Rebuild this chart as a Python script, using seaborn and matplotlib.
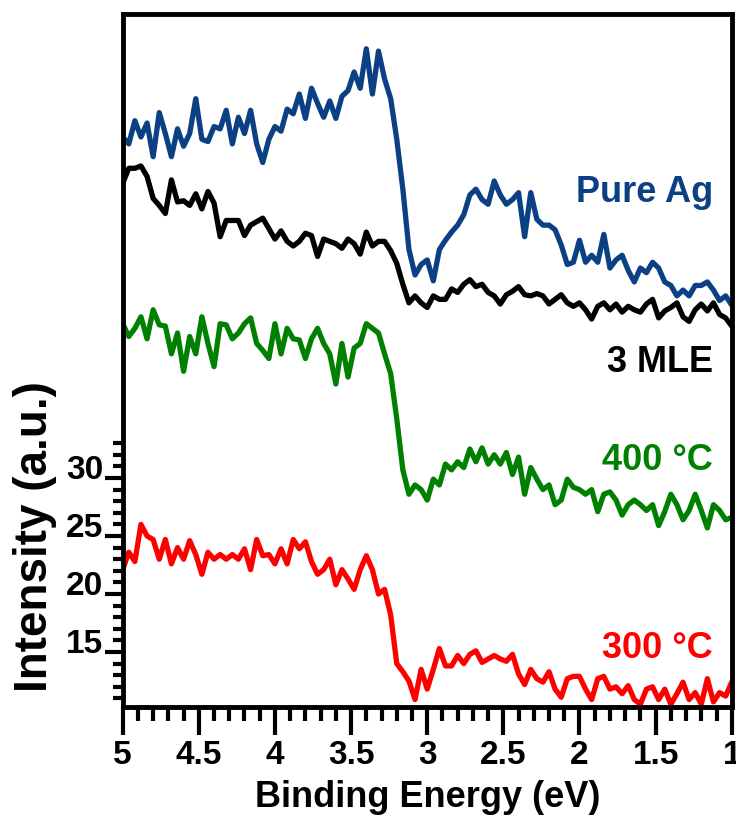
import numpy as np
import pandas as pd
import matplotlib
matplotlib.use('Agg')
import matplotlib.pyplot as plt
import matplotlib.transforms as mtransforms
from matplotlib.ticker import FixedLocator, MultipleLocator
import seaborn as sns

# energia de ligacao (eV), de 5 ate 1 com passo de 0.04
energy = np.linspace(5, 1, 101)

# espectros (unidades do eixo, ja com o deslocamento vertical)
pure_ag = [59.4, 58.8, 60.8, 59.4, 60.6, 57.7, 61.5, 59.7, 57.7, 60.1,
           58.6, 59.7, 62.7, 59.2, 59.0, 60.3, 60.1, 61.7, 58.8, 61.1,
           59.7, 61.7, 58.8, 57.2, 59.2, 60.3, 59.9, 61.8, 61.4, 63.1,
           61.0, 63.6, 62.3, 61.1, 62.5, 61.0, 62.9, 63.4, 65.0, 63.6,
           67.0, 63.1, 66.8, 64.4, 62.7, 59.2, 54.9, 49.7, 47.5, 48.4,
           48.8, 47.0, 49.7, 50.5, 51.2, 51.8, 52.7, 54.4, 54.9, 54.0,
           53.6, 55.6, 54.4, 53.6, 54.0, 54.6, 50.8, 54.6, 52.3, 51.8,
           51.8, 51.4, 50.1, 48.4, 48.6, 50.5, 48.6, 49.2, 48.6, 51.0,
           48.1, 48.8, 49.2, 47.9, 46.9, 48.1, 47.7, 48.6, 48.1, 46.9,
           46.6, 45.7, 46.2, 45.7, 46.6, 46.6, 46.9, 46.2, 45.3, 45.7,
           44.9]

mle3 = [55.4, 56.7, 56.7, 56.9, 56.0, 54.1, 53.5, 52.8, 55.7, 53.8,
        53.9, 53.5, 54.5, 53.2, 54.7, 53.7, 50.8, 52.2, 52.2, 52.2,
        50.9, 51.8, 52.1, 52.4, 51.5, 50.6, 51.3, 50.4, 50.0, 50.4,
        51.1, 50.9, 49.1, 50.6, 50.4, 50.2, 49.8, 50.6, 50.2, 49.3,
        51.2, 50.0, 50.4, 50.4, 49.6, 48.5, 46.7, 45.1, 45.7, 45.1,
        44.7, 45.7, 45.4, 45.4, 46.3, 46.0, 46.7, 47.1, 46.5, 46.7,
        46.0, 45.7, 45.0, 45.8, 46.1, 46.5, 45.8, 45.7, 45.9, 45.7,
        45.0, 45.4, 45.8, 45.1, 44.8, 45.1, 44.5, 43.7, 44.8, 45.1,
        44.5, 45.0, 44.3, 44.8, 44.5, 44.3, 45.0, 45.4, 43.8, 44.4,
        44.7, 45.1, 43.9, 43.5, 44.5, 45.0, 44.4, 45.1, 44.1, 43.8,
        43.1]

t400 = [43.3, 42.2, 42.9, 43.9, 42.0, 44.5, 43.2, 43.1, 40.7, 42.5,
        39.2, 42.2, 40.7, 43.9, 41.6, 39.6, 43.3, 43.2, 42.0, 42.5,
        43.3, 43.8, 41.6, 41.0, 40.3, 43.3, 40.7, 42.9, 42.0, 41.9,
        40.3, 42.0, 42.9, 41.6, 40.7, 38.1, 41.6, 38.7, 41.2, 41.6,
        43.3, 42.9, 42.5, 40.7, 39.0, 35.1, 30.7, 28.6, 29.4, 29.0,
        28.1, 29.9, 29.4, 31.2, 30.7, 31.4, 30.9, 32.5, 31.4, 32.6,
        31.2, 32.0, 31.2, 32.2, 30.3, 31.8, 28.6, 30.9, 29.9, 29.0,
        29.4, 27.7, 28.1, 29.9, 29.2, 29.0, 28.6, 29.0, 27.1, 28.6,
        28.8, 28.1, 26.8, 27.7, 28.1, 27.7, 27.2, 27.7, 25.9, 27.1,
        28.6, 27.7, 26.4, 27.2, 28.6, 27.2, 25.7, 27.7, 27.2, 26.4,
        26.6]

t300 = [22.1, 23.6, 22.8, 26.0, 25.0, 24.7, 23.0, 24.7, 22.6, 24.0,
        23.0, 24.6, 23.4, 21.7, 23.6, 23.0, 23.4, 23.0, 23.4, 23.0,
        23.9, 22.1, 24.7, 23.3, 23.4, 22.6, 23.9, 22.6, 24.7, 23.9,
        24.5, 22.8, 21.7, 22.1, 23.0, 20.8, 22.1, 21.3, 20.4, 22.1,
        23.3, 22.1, 20.0, 20.4, 18.2, 14.0, 13.3, 12.5, 10.9, 13.5,
        11.8, 13.5, 15.3, 13.8, 13.8, 14.7, 14.0, 14.8, 15.1, 14.1,
        14.4, 14.7, 14.4, 14.2, 14.8, 13.1, 12.2, 13.5, 12.7, 12.4,
        13.3, 11.8, 11.1, 12.7, 12.9, 12.9, 11.8, 10.9, 12.7, 12.9,
        11.8, 12.0, 11.4, 12.1, 10.9, 10.5, 11.8, 12.0, 10.9, 11.8,
        10.5, 11.4, 12.4, 10.9, 11.5, 10.5, 12.7, 10.7, 11.5, 11.2,
        12.4]

amostras = ['Pure Ag', '3 MLE', '400 °C', '300 °C']
cores = {'Pure Ag': '#0b4184', '3 MLE': '#000000', '400 °C': '#008000', '300 °C': '#ff0000'}
label_y = [53.9, 39.2, 30.8, 14.6]

db = pd.concat([
    pd.DataFrame({'energy': energy, 'intensity': vals, 'sample': nome})
    for nome, vals in zip(amostras, [pure_ag, mle3, t400, t300])
])

sns.set_style('ticks')
plt.rcParams['font.family'] = ['Liberation Sans', 'DejaVu Sans']
plt.rcParams['font.weight'] = 'bold'
plt.rcParams['text.color'] = 'black'
plt.rcParams['axes.labelcolor'] = 'black'
plt.rcParams['xtick.color'] = 'black'
plt.rcParams['ytick.color'] = 'black'

fig = plt.figure(figsize=(7.36, 8.2), dpi=100)
ax = fig.add_axes([0.1667, 0.1366, 0.8275, 0.8451])

sns.lineplot(data=db, x='energy', y='intensity', hue='sample', palette=cores,
             hue_order=amostras, linewidth=3.8, legend=False, ax=ax)
for linha in ax.lines:
    linha.set_solid_joinstyle('round')
    linha.set_solid_capstyle('round')

ax.set_xlim(5, 1)
ax.set_ylim(10.26, 70.0)

xt = [5, 4.5, 4, 3.5, 3, 2.5, 2, 1.5, 1]
ax.set_xticks(xt, labels=[f'{v:g}' for v in xt])
ax.xaxis.set_minor_locator(MultipleLocator(0.1))
yt = [15, 20, 25, 30]
ax.set_yticks(yt, labels=[str(v) for v in yt])
ax.yaxis.set_minor_locator(FixedLocator([v for v in range(11, 34) if v not in yt]))

ax.tick_params(axis='x', which='major', length=20, width=3, labelsize=24, pad=3,
               direction='out', colors='black')
ax.tick_params(axis='x', which='minor', length=10, width=3, direction='out', colors='black')
ax.tick_params(axis='y', which='major', length=13, width=3, labelsize=24, pad=1,
               direction='out', colors='black')
ax.tick_params(axis='y', which='minor', length=7, width=3, direction='out', colors='black')

for s in ax.spines.values():
    s.set_linewidth(3.5)
    s.set_color('black')

# rotulos do eixo y ficam um pouco acima dos ticks
desloc = mtransforms.ScaledTranslation(0, 0.12, fig.dpi_scale_trans)
for lbl in ax.get_yticklabels():
    lbl.set_transform(lbl.get_transform() + desloc)

ax.set_xlabel('Binding Energy (eV)', fontsize=26, fontweight='bold', color='black')
ax.xaxis.set_label_coords(0.5, -0.104)
ax.set_ylabel('Intensity (a.u.)', fontsize=33, fontweight='bold', color='black')
ax.yaxis.set_label_coords(-0.108, 0.247)

for nome, yy in zip(amostras, label_y):
    ax.text(1.123, yy, nome, color=cores[nome], fontsize=26, fontweight='bold',
            ha='right', va='baseline')

fig.savefig('out.png', dpi=100)
